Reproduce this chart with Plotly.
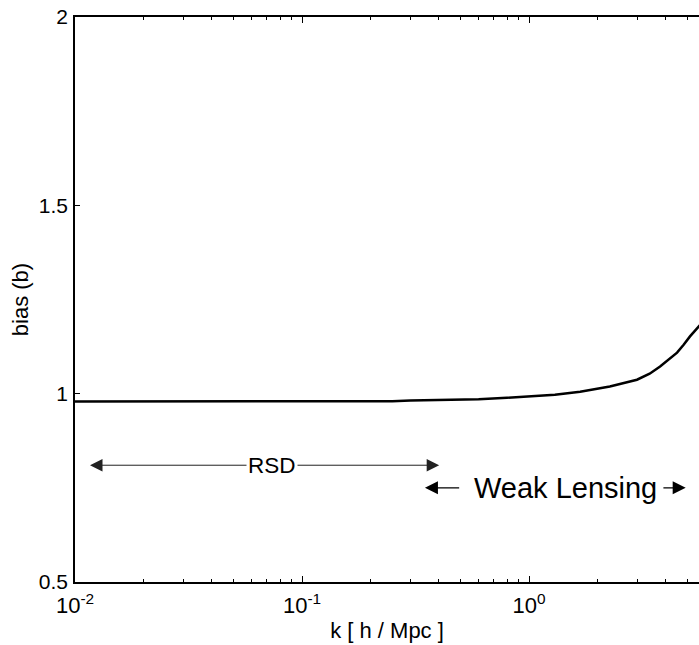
import numpy as np
import plotly.graph_objects as go

# Data
k_vals = [0.01, 0.02, 0.03, 0.035, 0.1, 0.25, 0.3, 0.45, 0.6, 0.8, 1.0, 1.3,
          1.68, 2.27, 2.99, 3.4, 3.78, 4.1, 4.49, 4.8, 5.12, 5.55, 6.0]
bias_vals = [0.979, 0.979, 0.979, 0.980, 0.980, 0.980, 0.982, 0.983, 0.985, 0.989,
             0.992, 0.997, 1.005, 1.019, 1.037, 1.053, 1.072, 1.089, 1.109, 1.13,
             1.152, 1.176, 1.20]

x_tick_vals = [0.01, 0.1, 1]
x_tick_text = ["10<sup>-2</sup>", "10<sup>-1</sup>", "10<sup>0</sup>"]
y_tick_vals = [0.5, 1, 1.5, 2]
y_tick_text = ["0.5", "1", "1.5", "2"]

# annotation positions (k units / bias units)
rsd_left, rsd_right, rsd_mid, rsd_y = 0.01164, 0.402, 0.0738, 0.81
wl_left_tip, wl_left_tail = 0.348, 0.50
wl_right_tail, wl_right_tip = 3.85, 4.9
wl_mid, wl_y = 1.45, 0.75

FONT = "Liberation Sans, Arial, Helvetica, sans-serif"

fig = go.Figure()
fig.add_trace(go.Scatter(x=k_vals, y=bias_vals, mode="lines",
                         line=dict(color="black", width=2.5), showlegend=False))

xr = [-2, -2 + 624 / 227]

fig.update_layout(
    width=699, height=645,
    margin=dict(l=75, r=0, t=17, b=63),
    paper_bgcolor="white", plot_bgcolor="white",
    font=dict(family=FONT, size=20, color="black"),
    xaxis=dict(type="log", range=xr, tickvals=x_tick_vals, ticktext=x_tick_text,
               ticks="inside", ticklen=6, tickwidth=1, tickcolor="black",
               showline=True, linecolor="black", linewidth=1.5, mirror="allticks",
               showgrid=False, zeroline=False,
               tickfont=dict(size=22), ticklabelstandoff=3,
               minor=dict(ticks="inside", ticklen=3, tickwidth=1, tickcolor="black",
                          dtick="D1", showgrid=False),
               title=dict(text="k [ h / Mpc ]", font=dict(size=22), standoff=5)),
    yaxis=dict(range=[0.5, 2], tickvals=y_tick_vals, ticktext=y_tick_text,
               ticks="inside", ticklen=5, tickwidth=1, tickcolor="black",
               showline=True, linecolor="black", linewidth=1.5,
               showgrid=False, zeroline=False,
               tickfont=dict(size=21), ticklabelstandoff=1,
               title=dict(text="bias (b)", font=dict(size=22), standoff=4)),
)

L = np.log10
# RSD double arrow
for tip in (rsd_left, rsd_right):
    fig.add_annotation(x=L(tip), y=rsd_y, ax=L(rsd_mid), ay=rsd_y, axref="x", ayref="y",
                       xref="x", yref="y", text="", showarrow=True, arrowhead=2,
                       arrowsize=2.5, arrowwidth=1, arrowcolor="#222")
fig.add_annotation(x=L(rsd_mid), y=rsd_y, xref="x", yref="y", text="RSD", showarrow=False,
                   bgcolor="white", font=dict(size=22.5), borderpad=1)

# Weak lensing arrows
fig.add_annotation(x=L(wl_left_tip), y=wl_y, ax=L(wl_left_tail), ay=wl_y, axref="x", ayref="y",
                   xref="x", yref="y", text="", showarrow=True, arrowhead=2,
                   arrowsize=2.0, arrowwidth=1.3, arrowcolor="black")
fig.add_annotation(x=L(wl_right_tip), y=wl_y, ax=L(wl_right_tail), ay=wl_y, axref="x", ayref="y",
                   xref="x", yref="y", text="", showarrow=True, arrowhead=2,
                   arrowsize=2.0, arrowwidth=1.3, arrowcolor="black")
fig.add_annotation(x=L(wl_mid), y=wl_y, xref="x", yref="y", text="Weak Lensing",
                   showarrow=False, font=dict(size=29))

fig.write_html("out.html")
